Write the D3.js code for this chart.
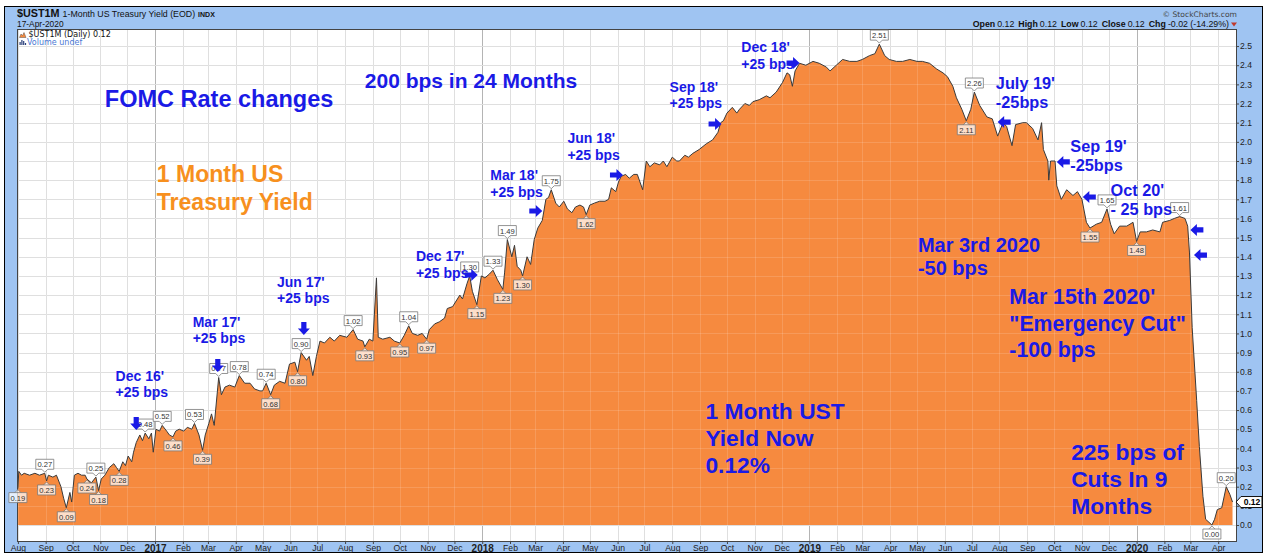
<!DOCTYPE html>
<html>
<head>
<meta charset="utf-8">
<script src="https://cdn.jsdelivr.net/npm/d3@7"></script>
<style>
    body { margin: 0; background: #fff; }
    svg { display: block; font-family: "Liberation Sans", Arial, sans-serif; }
</style>
</head>
<body>
<div id="grafica-yield"></div>
<script>
// 1 month treasury yield (date, close)
const yieldData = [
    ['2016-08-01', 0.19], ['2016-08-02', 0.28], ['2016-08-05', 0.26], ['2016-08-08', 0.27], ['2016-08-14', 0.26],
    ['2016-08-20', 0.27], ['2016-08-25', 0.26], ['2016-08-31', 0.27], ['2016-09-02', 0.23], ['2016-09-04', 0.26],
    ['2016-09-09', 0.25], ['2016-09-13', 0.26], ['2016-09-18', 0.20], ['2016-09-21', 0.14], ['2016-09-24', 0.09],
    ['2016-09-28', 0.17], ['2016-09-30', 0.12], ['2016-10-03', 0.26], ['2016-10-07', 0.27], ['2016-10-11', 0.26],
    ['2016-10-15', 0.26], ['2016-10-17', 0.24], ['2016-10-22', 0.22], ['2016-10-27', 0.25], ['2016-10-30', 0.18],
    ['2016-11-02', 0.24], ['2016-11-06', 0.26], ['2016-11-11', 0.30], ['2016-11-16', 0.32], ['2016-11-19', 0.30],
    ['2016-11-22', 0.28], ['2016-11-26', 0.33], ['2016-11-29', 0.31], ['2016-12-02', 0.36], ['2016-12-06', 0.33],
    ['2016-12-08', 0.38], ['2016-12-11', 0.43], ['2016-12-15', 0.47], ['2016-12-18', 0.44], ['2016-12-21', 0.48],
    ['2016-12-25', 0.45], ['2016-12-28', 0.48], ['2016-12-30', 0.38],
    ['2017-01-02', 0.50], ['2017-01-06', 0.49], ['2017-01-09', 0.52], ['2017-01-14', 0.49], ['2017-01-17', 0.47],
    ['2017-01-21', 0.46], ['2017-01-24', 0.49], ['2017-01-28', 0.50], ['2017-02-02', 0.49], ['2017-02-06', 0.51],
    ['2017-02-11', 0.50], ['2017-02-14', 0.53], ['2017-02-19', 0.47], ['2017-02-23', 0.39], ['2017-02-26', 0.47],
    ['2017-03-02', 0.53], ['2017-03-05', 0.58], ['2017-03-08', 0.52], ['2017-03-12', 0.72], ['2017-03-13', 0.77],
    ['2017-03-16', 0.68], ['2017-03-20', 0.72], ['2017-03-25', 0.73], ['2017-03-31', 0.72], ['2017-04-05', 0.78],
    ['2017-04-11', 0.74], ['2017-04-17', 0.74], ['2017-04-22', 0.71], ['2017-04-28', 0.70], ['2017-05-01', 0.70],
    ['2017-05-05', 0.74], ['2017-05-10', 0.68], ['2017-05-14', 0.73], ['2017-05-20', 0.75], ['2017-05-26', 0.74],
    ['2017-05-31', 0.84], ['2017-06-06', 0.85], ['2017-06-09', 0.80], ['2017-06-13', 0.90], ['2017-06-19', 0.86],
    ['2017-06-22', 0.88], ['2017-06-26', 0.78], ['2017-06-30', 0.88], ['2017-07-04', 0.96], ['2017-07-09', 0.95],
    ['2017-07-15', 0.98], ['2017-07-20', 0.96], ['2017-07-26', 0.99], ['2017-08-03', 0.98], ['2017-08-10', 1.02],
    ['2017-08-15', 0.97], ['2017-08-21', 0.96], ['2017-08-23', 0.93], ['2017-08-28', 0.97], ['2017-09-01', 0.96],
    ['2017-09-05', 1.29], ['2017-09-07', 0.98], ['2017-09-12', 0.97], ['2017-09-20', 0.98], ['2017-09-25', 0.96],
    ['2017-10-01', 0.95], ['2017-10-06', 0.99], ['2017-10-11', 1.04], ['2017-10-15', 1.00], ['2017-10-21', 0.99],
    ['2017-10-26', 1.00], ['2017-10-31', 0.97], ['2017-11-03', 1.02], ['2017-11-09', 1.05], ['2017-11-14', 1.06],
    ['2017-11-20', 1.08], ['2017-11-23', 1.13], ['2017-11-29', 1.14], ['2017-12-07', 1.20], ['2017-12-10', 1.18],
    ['2017-12-15', 1.26], ['2017-12-18', 1.30], ['2017-12-21', 1.22], ['2017-12-26', 1.15], ['2017-12-31', 1.30],
    ['2018-01-04', 1.29], ['2018-01-09', 1.31], ['2018-01-13', 1.33], ['2018-01-18', 1.28], ['2018-01-24', 1.23],
    ['2018-01-26', 1.32], ['2018-01-29', 1.49], ['2018-02-03', 1.40], ['2018-02-06', 1.46], ['2018-02-09', 1.35],
    ['2018-02-13', 1.33], ['2018-02-15', 1.30], ['2018-02-20', 1.40], ['2018-02-24', 1.36], ['2018-02-28', 1.49],
    ['2018-03-04', 1.55], ['2018-03-09', 1.59], ['2018-03-13', 1.70], ['2018-03-16', 1.71], ['2018-03-19', 1.75],
    ['2018-03-24', 1.68], ['2018-03-28', 1.66], ['2018-04-02', 1.69], ['2018-04-06', 1.65], ['2018-04-11', 1.63],
    ['2018-04-15', 1.66], ['2018-04-20', 1.67], ['2018-04-24', 1.66], ['2018-04-27', 1.62], ['2018-05-01', 1.67],
    ['2018-05-06', 1.68], ['2018-05-12', 1.69], ['2018-05-18', 1.69], ['2018-05-22', 1.70], ['2018-05-25', 1.76],
    ['2018-05-30', 1.74], ['2018-06-02', 1.79], ['2018-06-05', 1.82], ['2018-06-10', 1.83], ['2018-06-14', 1.81],
    ['2018-06-19', 1.83], ['2018-06-23', 1.83], ['2018-06-29', 1.75], ['2018-07-03', 1.90], ['2018-07-07', 1.87],
    ['2018-07-12', 1.89], ['2018-07-18', 1.88], ['2018-07-22', 1.90], ['2018-07-26', 1.87], ['2018-08-01', 1.92],
    ['2018-08-06', 1.90], ['2018-08-09', 1.90], ['2018-08-15', 1.93], ['2018-08-19', 1.92], ['2018-08-24', 1.94],
    ['2018-08-31', 1.96], ['2018-09-08', 1.99], ['2018-09-15', 2.01], ['2018-09-21', 2.05], ['2018-09-24', 2.10],
    ['2018-09-27', 2.11], ['2018-10-01', 2.15], ['2018-10-07', 2.18], ['2018-10-12', 2.15], ['2018-10-15', 2.17],
    ['2018-10-21', 2.20], ['2018-10-26', 2.19], ['2018-10-30', 2.21], ['2018-11-06', 2.22], ['2018-11-14', 2.24],
    ['2018-11-18', 2.23], ['2018-11-25', 2.26], ['2018-12-02', 2.31], ['2018-12-07', 2.36], ['2018-12-10', 2.35],
    ['2018-12-13', 2.29], ['2018-12-16', 2.37], ['2018-12-21', 2.41], ['2018-12-28', 2.40],
    ['2019-01-05', 2.42], ['2019-01-12', 2.41], ['2019-01-20', 2.39], ['2019-01-24', 2.37], ['2019-01-31', 2.40],
    ['2019-02-07', 2.43], ['2019-02-15', 2.42], ['2019-02-23', 2.42], ['2019-03-01', 2.43], ['2019-03-09', 2.45],
    ['2019-03-15', 2.46], ['2019-03-20', 2.51], ['2019-03-26', 2.45], ['2019-03-31', 2.43], ['2019-04-08', 2.42],
    ['2019-04-15', 2.42], ['2019-04-23', 2.43], ['2019-05-01', 2.42], ['2019-05-07', 2.42], ['2019-05-15', 2.41],
    ['2019-05-23', 2.38], ['2019-05-30', 2.36], ['2019-06-04', 2.34], ['2019-06-10', 2.29], ['2019-06-14', 2.23],
    ['2019-06-20', 2.17], ['2019-06-25', 2.11], ['2019-06-30', 2.17], ['2019-07-04', 2.26], ['2019-07-10', 2.19],
    ['2019-07-18', 2.13], ['2019-07-24', 2.12], ['2019-07-30', 2.03], ['2019-08-05', 2.10], ['2019-08-09', 2.08],
    ['2019-08-15', 1.98], ['2019-08-19', 2.09], ['2019-08-27', 2.10], ['2019-08-31', 2.10], ['2019-09-07', 2.07],
    ['2019-09-13', 2.01], ['2019-09-17', 2.10], ['2019-09-19', 1.96], ['2019-09-24', 1.90], ['2019-09-25', 1.80],
    ['2019-09-27', 1.90], ['2019-10-02', 1.90], ['2019-10-04', 1.77], ['2019-10-09', 1.70], ['2019-10-15', 1.75],
    ['2019-10-22', 1.72], ['2019-10-27', 1.74], ['2019-11-01', 1.70], ['2019-11-06', 1.58], ['2019-11-10', 1.55],
    ['2019-11-17', 1.57], ['2019-11-23', 1.58], ['2019-11-29', 1.65], ['2019-12-03', 1.57], ['2019-12-07', 1.52],
    ['2019-12-13', 1.56], ['2019-12-21', 1.56], ['2019-12-28', 1.58],
    ['2020-01-01', 1.48], ['2020-01-05', 1.53], ['2020-01-12', 1.53], ['2020-01-19', 1.54], ['2020-01-27', 1.53],
    ['2020-01-30', 1.58], ['2020-02-07', 1.59], ['2020-02-12', 1.60], ['2020-02-18', 1.61], ['2020-02-24', 1.60],
    ['2020-02-27', 1.56], ['2020-02-29', 1.42], ['2020-03-03', 1.03], ['2020-03-08', 0.65], ['2020-03-11', 0.41],
    ['2020-03-15', 0.15], ['2020-03-18', 0.03], ['2020-03-25', 0.00], ['2020-03-28', 0.03], ['2020-03-31', 0.08],
    ['2020-04-05', 0.09], ['2020-04-10', 0.20], ['2020-04-14', 0.16], ['2020-04-17', 0.12]
]

// little value boxes on the swing highs / lows
const calloutHighs = ['2016-08-31', '2016-10-27', '2016-12-21', '2017-01-09', '2017-02-14', '2017-03-13',
    '2017-04-05', '2017-05-05', '2017-06-13', '2017-08-10', '2017-10-11', '2017-12-18', '2018-01-13',
    '2018-01-29', '2018-03-19', '2019-03-20', '2019-07-04', '2019-11-29', '2020-02-18', '2020-04-10']
const calloutLows = ['2016-08-01', '2016-09-02', '2016-09-24', '2016-10-17', '2016-10-30', '2016-11-22',
    '2017-01-21', '2017-02-23', '2017-05-10', '2017-06-09', '2017-08-23', '2017-10-01', '2017-10-31',
    '2017-12-26', '2018-01-24', '2018-02-15', '2018-04-27', '2019-06-25', '2019-11-10', '2020-01-01', '2020-03-25']

// FOMC arrows: tip date, tip level, pointing direction
const fedArrows = [
    ['2016-12-11', 0.496, 'down'], ['2017-03-12', 0.799, 'down'], ['2017-06-16', 0.992, 'down'],
    ['2017-12-27', 1.305, 'right'], ['2018-03-09', 1.639, 'right'], ['2018-06-07', 1.827, 'right'],
    ['2018-09-25', 2.093, 'right'], ['2018-12-21', 2.411, 'right'], ['2019-07-30', 2.103, 'left'],
    ['2019-10-04', 1.895, 'left'], ['2019-11-02', 1.712, 'left'], ['2020-03-01', 1.540, 'left'],
    ['2020-03-05', 1.409, 'left']
]

// text notes: anchor date, anchor level (first baseline), lines, kind
const notes = [
    ['2016-11-06', 2.183, ['FOMC Rate changes'], 'titulo'],
    ['2017-08-23', 2.282, ['200 bps in 24 Months'], 'grande'],
    ['2017-01-03', 1.792, ['1 Month US', 'Treasury Yield'], 'naranja'],
    ['2016-11-18', 0.753, ["Dec 16'", '+25 bps'], 'chico'],
    ['2017-02-12', 1.035, ["Mar 17'", '+25 bps'], 'chico'],
    ['2017-05-17', 1.244, ["Jun 17'", '+25 bps'], 'chico'],
    ['2017-10-19', 1.378, ["Dec 17'", '+25 bps'], 'chico'],
    ['2018-01-10', 1.801, ["Mar 18'", '+25 bps'], 'chico'],
    ['2018-04-06', 1.992, ["Jun 18'", '+25 bps'], 'chico'],
    ['2018-07-29', 2.261, ["Sep 18'", '+25 bps'], 'chico'],
    ['2018-10-17', 2.467, ["Dec 18'", '+25 bps'], 'chico'],
    ['2019-07-28', 2.276, ["July 19'", '-25bps'], 'medio'],
    ['2019-10-19', 1.948, ["Sep 19'", '-25bps'], 'medio'],
    ['2019-12-03', 1.719, ["Oct 20'", '- 25 bps'], 'medio'],
    ['2019-05-02', 1.426, ['Mar 3rd 2020', '-50 bps'], 'marzo'],
    ['2019-08-12', 1.153, ["Mar 15th 2020'", '"Emergency Cut"', '-100 bps'], 'emergencia'],
    ['2018-09-07', 0.553, ['1 Month UST', 'Yield Now', '0.12%'], 'bloque'],
    ['2019-10-20', 0.339, ['225 bps of', 'Cuts In 9', 'Months'], 'bloque']
]

const yTickValues = [0.0, 0.1, 0.2, 0.3, 0.4, 0.5, 0.6, 0.7, 0.8, 0.9, 1.0, 1.1, 1.2,
    1.3, 1.4, 1.5, 1.6, 1.7, 1.8, 1.9, 2.0, 2.1, 2.2, 2.3, 2.4, 2.5]
const monthNames = ['Jan', 'Feb', 'Mar', 'Apr', 'May', 'Jun', 'Jul', 'Aug', 'Sep', 'Oct', 'Nov', 'Dec']

const noteStyles = {
    titulo: { size: 23.5, lh: 27, color: '#1a1ae6' },
    grande: { size: 21, lh: 25, color: '#1a1ae6' },
    naranja: { size: 23, lh: 28.3, color: '#f7901e' },
    chico: { size: 14, lh: 16.6, color: '#1a1ae6' },
    medio: { size: 16.3, lh: 19.5, color: '#1a1ae6' },
    marzo: { size: 20, lh: 23.4, color: '#1a1ae6' },
    emergencia: { size: 21.3, lh: 26.4, color: '#1a1ae6' },
    bloque: { size: 22.8, lh: 26.8, color: '#1a1ae6' }
}

const W = 1271, H = 560
const plot = { left: 17, right: 1237, top: 29, bottom: 542 }
var orangeColor = '#f68a3f'
var blueFrame = '#9fc4f2'

const parseDate = d3.timeParse('%Y-%m-%d')
const series = yieldData.map(d => ({ date: parseDate(d[0]), value: d[1] }))
const valueByDate = new Map(yieldData)

const svg = d3.select('#grafica-yield')
    .append('svg')
    .attr('width', W)
    .attr('height', H)

// outer StockCharts frame
svg.append('rect')
    .attr('x', 4.5).attr('y', 6.5)
    .attr('width', 1258).attr('height', 546)
    .attr('fill', blueFrame)
    .attr('stroke', '#000')

svg.append('rect')
    .attr('x', plot.left).attr('y', plot.top)
    .attr('width', plot.right - plot.left).attr('height', plot.bottom - plot.top)
    .attr('fill', '#fff')

const x = d3.scaleTime()
    .domain([new Date(2016, 6, 31), new Date(2020, 3, 22)])
    .range([plot.left, plot.right])

const y = d3.scaleLinear()
    .domain([-0.0887, 2.589])
    .range([plot.bottom, plot.top])

const months = d3.timeMonth.range(new Date(2016, 7, 1), new Date(2020, 3, 2))

svg.append('clipPath').attr('id', 'clip-plot')
    .append('rect')
    .attr('x', plot.left).attr('y', plot.top)
    .attr('width', plot.right - plot.left).attr('height', plot.bottom - plot.top)

const inner = svg.append('g').attr('clip-path', 'url(#clip-plot)')

function drawGrid(g, color, opacity) {
    g.selectAll('.gx')
        .data(months)
        .enter().append('line')
        .attr('x1', d => Math.round(x(d)) + 0.5).attr('x2', d => Math.round(x(d)) + 0.5)
        .attr('y1', plot.top).attr('y2', plot.bottom)
        .attr('stroke', d => d.getMonth() === 0 ? d3.color(color).darker(0.6) : color)
        .attr('stroke-opacity', opacity)
    g.selectAll('.gy')
        .data(yTickValues)
        .enter().append('line')
        .attr('x1', plot.left).attr('x2', plot.right)
        .attr('y1', d => Math.round(y(d)) + 0.5).attr('y2', d => Math.round(y(d)) + 0.5)
        .attr('stroke', color)
        .attr('stroke-opacity', opacity)
}

drawGrid(inner.append('g'), '#dadada', 1)

const area = d3.area()
    .x(d => x(d.date))
    .y0(y(0))
    .y1(d => y(d.value))

const line = d3.line()
    .x(d => x(d.date))
    .y(d => y(d.value))

inner.append('path')
    .datum(series)
    .attr('d', area)
    .attr('fill', orangeColor)

// faint grid on top of the mountain
drawGrid(inner.append('g'), '#ffffff', 0.14)

inner.append('path')
    .datum(series)
    .attr('d', line)
    .attr('fill', 'none')
    .attr('stroke', '#3a3a3a')
    .attr('stroke-width', 1)

// plot border
svg.append('rect')
    .attr('x', plot.left + 0.5).attr('y', plot.top + 0.5)
    .attr('width', plot.right - plot.left - 1).attr('height', plot.bottom - plot.top - 1)
    .attr('fill', 'none')
    .attr('stroke', '#444')

// Axes
const xAxis = svg.append('g')
    .attr('class', 'x axis')
    .attr('transform', `translate(0, ${plot.bottom})`)
    .call(d3.axisBottom(x)
        .tickValues(months)
        .tickSize(2)
        .tickPadding(1)
        .tickFormat(d => d.getMonth() === 0 ? d.getFullYear() : monthNames[d.getMonth()]))
xAxis.select('.domain').remove()
xAxis.selectAll('line').attr('stroke', '#444')
xAxis.selectAll('text')
    .style('font-family', '"Liberation Sans", Arial, sans-serif')
    .style('font-size', d => d.getMonth() === 0 ? '10px' : '8.6px')
    .style('font-weight', d => d.getMonth() === 0 ? 'bold' : 'normal')
    .style('fill', '#222')

const yAxis = svg.append('g')
    .attr('class', 'y axis')
    .attr('transform', `translate(${plot.right}, 0)`)
    .call(d3.axisRight(y)
        .tickValues(yTickValues)
        .tickSize(2)
        .tickPadding(1)
        .tickFormat(d3.format('.1f')))
yAxis.select('.domain').remove()
yAxis.selectAll('line').attr('stroke', '#444')
yAxis.selectAll('text')
    .style('font-family', '"Liberation Sans", Arial, sans-serif')
    .style('font-size', '8.6px')
    .style('fill', '#222')

// value callouts
const labels = svg.append('g')
function callout(date, above) {
    const v = valueByDate.get(date)
    const cx = x(parseDate(date)), cy = y(v)
    const w = 18, h = 10, gap = 4
    const by = above ? cy - gap - h : cy + gap
    const edge = above ? by + h : by
    const tip = above ? cy - 1 : cy + 1
    const p = d3.path()
    p.moveTo(cx - w / 2, by)
    p.lineTo(cx + w / 2, by)
    p.lineTo(cx + w / 2, by + h)
    if (above) {
        p.lineTo(cx + 3, edge); p.lineTo(cx, tip); p.lineTo(cx - 3, edge)
        p.lineTo(cx - w / 2, by + h)
    } else {
        p.lineTo(cx - w / 2, by + h)
    }
    p.closePath()
    if (!above) {
        p.moveTo(cx - 3, edge); p.lineTo(cx, tip); p.lineTo(cx + 3, edge)
    }
    labels.append('path')
        .attr('d', p.toString())
        .attr('fill', '#fff')
        .attr('fill-opacity', above ? 0.95 : 0.72)
        .attr('stroke', '#7a7a7a')
        .attr('stroke-width', 0.8)
    labels.append('text')
        .attr('x', cx).attr('y', by + h - 2)
        .attr('text-anchor', 'middle')
        .style('font-size', '7.6px')
        .style('fill', '#333')
        .text(v.toFixed(2))
}
calloutHighs.forEach(d => callout(d, true))
calloutLows.forEach(d => callout(d, false))

// last value tag on the right axis
const last = series[series.length - 1]
const ly = y(last.value)
svg.append('path')
    .attr('d', `M${plot.right - 1},${ly} L${plot.right + 4},${ly - 5.5} H${plot.right + 25} V${ly + 5.5} H${plot.right + 4} Z`)
    .attr('fill', '#fff')
    .attr('stroke', '#111')
svg.append('text')
    .attr('x', plot.right + 15).attr('y', ly + 3)
    .attr('text-anchor', 'middle')
    .style('font-size', '8.6px')
    .style('font-weight', 'bold')
    .text(last.value.toFixed(2))

// FOMC arrows
const arrowShape = 'M0,0 L-6.5,-6 L-6.5,-2.6 L-13,-2.6 L-13,2.6 L-6.5,2.6 L-6.5,6 Z'
const rotation = { right: 0, left: 180, down: 90 }
svg.append('g').selectAll('.fed-arrow')
    .data(fedArrows)
    .enter().append('path')
    .attr('class', 'fed-arrow')
    .attr('d', arrowShape)
    .attr('transform', d => `translate(${x(parseDate(d[0]))}, ${y(d[1])}) rotate(${rotation[d[2]]})`)
    .attr('fill', '#1a1ae6')

// notes
notes.forEach(n => {
    const st = noteStyles[n[3]]
    const t = svg.append('text')
        .attr('x', x(parseDate(n[0])))
        .attr('y', y(n[1]))
        .style('font-size', st.size + 'px')
        .style('font-weight', 'bold')
        .style('fill', st.color)
    n[2].forEach((s, i) => {
        t.append('tspan')
            .attr('x', x(parseDate(n[0])))
            .attr('dy', i === 0 ? 0 : st.lh)
            .text(s)
    })
})

// header
const head = svg.append('text').attr('x', 17).attr('y', 17.3).style('fill', '#111')
head.append('tspan').style('font-size', '10.8px').style('font-weight', 'bold').text('$UST1M')
head.append('tspan').attr('dx', 3).style('font-size', '8.8px').text('1-Month US Treasury Yield (EOD)')
head.append('tspan').attr('dx', 3).style('font-size', '7px').style('font-weight', 'bold').text('INDX')

svg.append('text')
    .attr('x', 17).attr('y', 26.7)
    .style('font-size', '8.4px').style('fill', '#111')
    .text('17-Apr-2020')

svg.append('text')
    .attr('x', 1237).attr('y', 16.5)
    .attr('text-anchor', 'end')
    .style('font-family', '"DejaVu Sans", sans-serif')
    .style('font-size', '7.6px').style('fill', '#444')
    .text('\u00A9 StockCharts.com')

const ohlc = svg.append('text')
    .attr('x', 1229).attr('y', 27.2)
    .attr('text-anchor', 'end')
    .style('font-size', '8.8px').style('fill', '#111')
const ohlcParts = [['Open', '0.12'], ['High', '0.12'], ['Low', '0.12'], ['Close', '0.12'], ['Chg', '-0.02 (-14.29%)']]
ohlcParts.forEach((p, i) => {
    ohlc.append('tspan').attr('dx', i === 0 ? 0 : 4).style('font-weight', 'bold').text(p[0])
    ohlc.append('tspan').attr('dx', 2).text(p[1])
})
svg.append('path')
    .attr('d', 'M1231,22.5 L1237,22.5 L1234,26.5 Z')
    .attr('fill', '#c0392b')

// legend inside the plot
svg.append('path')
    .attr('d', 'M19.5,37.5 L21,34 L22.5,35.5 L24,32.5 L26,37.5 Z')
    .attr('fill', orangeColor)
    .attr('stroke', '#555')
    .attr('stroke-width', 0.5)
svg.append('text')
    .attr('x', 28.5).attr('y', 37.4)
    .style('font-family', '"DejaVu Sans", sans-serif')
    .style('font-size', '8px').style('fill', '#111')
    .text('$UST1M (Daily) 0.12')
svg.append('g').selectAll('rect')
    .data([3, 5, 4, 2])
    .enter().append('rect')
    .attr('x', (d, i) => 19.5 + i * 1.8).attr('y', d => 45 - d)
    .attr('width', 1.2).attr('height', d => d)
    .attr('fill', '#2a3f7a')
svg.append('text')
    .attr('x', 27).attr('y', 45.3)
    .style('font-family', '"DejaVu Sans", sans-serif')
    .style('font-size', '8px').style('fill', '#4a78d4')
    .text('Volume undef')
</script>
</body>
</html>
